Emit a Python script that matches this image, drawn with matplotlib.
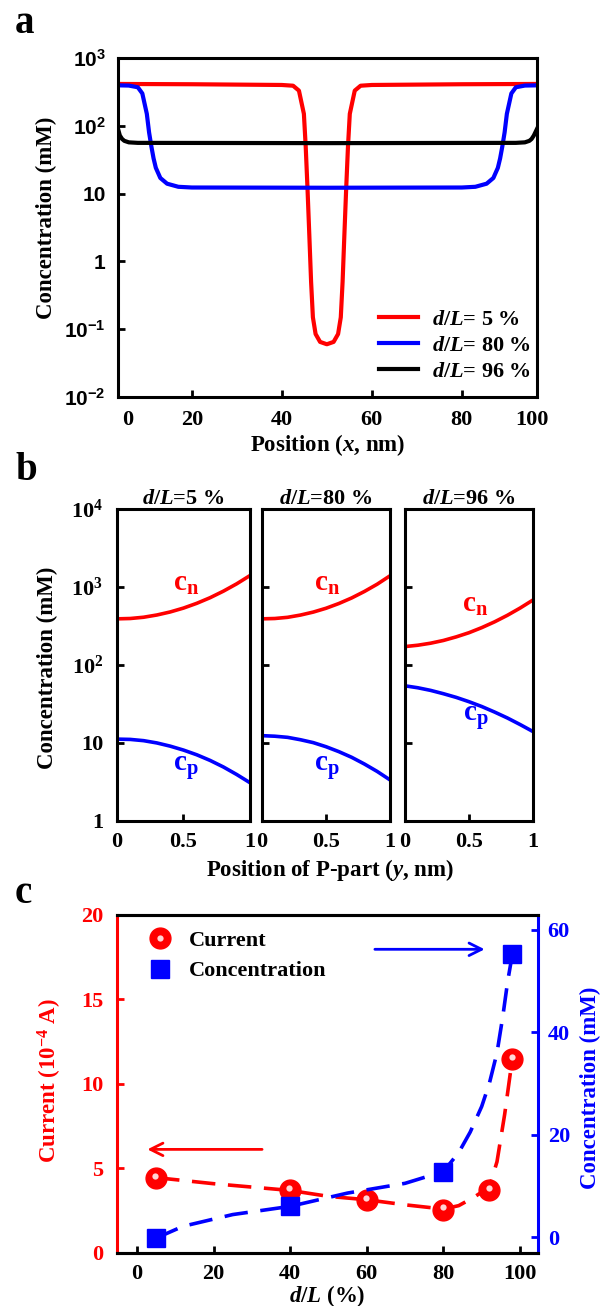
import numpy as np
import matplotlib
matplotlib.use("Agg")
import matplotlib.pyplot as plt
from matplotlib.transforms import offset_copy
from matplotlib.legend_handler import HandlerTuple

# ---- panel a: concentration profiles along x (log scale) ----
a_x_red = [3.6, 20, 40, 42.5, 43.8, 44.9, 45.3, 45.7, 46.1, 46.5, 46.9, 47.5, 48.5, 50,
           51.5, 52.5, 53.1, 53.5, 53.9, 54.3, 54.7, 55.1, 56.2, 57.5, 60, 80, 96.7]
a_c_red = [414, 410, 400, 390, 330, 150, 50, 12, 2.5, 0.5, 0.15, 0.085, 0.065, 0.06,
           0.065, 0.085, 0.15, 0.5, 2.5, 12, 50, 150, 330, 390, 400, 410, 414]
a_x_blue = [3.6, 6, 8, 9, 10, 10.5, 11, 11.5, 12, 13, 14.5, 17, 20, 50,
            80, 83, 85.5, 87, 88, 88.5, 89, 89.5, 90, 91, 92, 94, 96.7]
a_c_blue = [395, 392, 370, 300, 150, 80, 50, 33, 24, 17, 14, 12.6, 12.3, 12.2,
            12.3, 12.6, 14, 17, 24, 33, 50, 80, 150, 300, 370, 392, 395]
a_x_black = [3.6, 4, 4.5, 5, 6, 8, 50, 92, 94, 95, 95.5, 96, 96.7]
a_c_black = [90, 72, 64, 60, 57, 56, 55.5, 56, 57, 60, 64, 72, 90]
a_labels = ["= 5 %", "= 80 %", "= 96 %"]
a_xtick_pos = [5.8, 20, 40, 60, 80, 95.6]
a_xtick_lab = ["0", "20", "40", "60", "80", "100"]

# ---- panel b: cn / cp across the P-part ----
b_y = [0, 0.1, 0.2, 0.3, 0.4, 0.5, 0.6, 0.7, 0.8, 0.9, 1.0]
b_cn = [[390, 394, 409, 437, 478, 536, 617, 728, 883, 1097, 1400],
        [390, 394, 408, 436, 476, 533, 613, 722, 875, 1085, 1390],
        [172, 179, 190, 206, 229, 259, 301, 357, 433, 537, 680]]
b_cp = [[11.2, 11.1, 10.7, 10.0, 9.1, 8.1, 7.05, 5.97, 4.92, 3.94, 3.09],
        [12.4, 12.2, 11.8, 11.0, 10.1, 8.95, 7.74, 6.55, 5.37, 4.31, 3.36],
        [54, 51, 47.2, 42.8, 38.4, 33.8, 29.3, 24.9, 20.9, 17.2, 14.0]]
b_titles = ["=5 %", "=80 %", "=96 %"]
b_cn_lab = [(0.52, 1100), (0.51, 1100), (0.55, 590)]
b_cp_lab = [(0.52, 4.8), (0.51, 4.8), (0.55, 21)]

# ---- panel c: current and concentration vs d/L ----
c_dl = [5, 40, 60, 80, 92, 98]
c_current = [4.46, 3.7, 3.15, 2.57, 3.7, 11.5]
c_dl_conc = [5, 40, 80, 98]
c_conc = [-0.2, 6.0, 12.8, 55.2]
c_fit_cur_x = [5, 20, 40, 50, 60, 70, 80, 84, 88, 92, 94, 96, 98]
c_fit_cur_y = [4.46, 4.1, 3.7, 3.35, 3.15, 2.85, 2.6, 2.8, 3.3, 3.9, 5.4, 8.2, 11.5]
c_fit_conc_x = [5, 12, 25, 40, 55, 70, 80, 84, 87, 90, 92, 94, 95.5, 96.8, 98]
c_fit_conc_y = [-0.2, 2.1, 4.4, 6.0, 8.6, 10.5, 12.8, 16.5, 20.5, 25.5, 30, 36, 43, 50, 55.2]

plt.rcParams['font.family'] = 'Liberation Serif'
plt.rcParams['font.weight'] = 'bold'
plt.rcParams['axes.labelweight'] = 'bold'
plt.rcParams['axes.titleweight'] = 'bold'
plt.rcParams['mathtext.fontset'] = 'custom'
plt.rcParams['mathtext.rm'] = 'Liberation Serif:bold'
plt.rcParams['mathtext.bf'] = 'Liberation Serif:bold'
plt.rcParams['mathtext.it'] = 'Liberation Serif:italic:bold'
plt.rcParams['axes.linewidth'] = 2.2

FS = 16
RED = '#ff0000'
BLUE = '#0000ff'

fig = plt.figure(figsize=(6.04, 13.06), dpi=100)

# ================= a =================
ax = fig.add_axes([0.1954, 0.696, 0.6937, 0.2596])
for xs, cs, col, lab in zip([a_x_red, a_x_blue, a_x_black],
                            [a_c_red, a_c_blue, a_c_black],
                            [RED, BLUE, 'black'], a_labels):
    ax.plot(xs, cs, color=col, lw=3, label=r'$\mathit{d/L}$' + lab)
ax.set_yscale('log')
ax.set_ylim(1e-2, 1e3)
ax.set_xlim(3.6, 96.7)
ax.minorticks_off()
ax.set_yticks([1e-2, 1e-1, 1, 10, 1e2, 1e3],
              labels=[r'$\mathdefault{10^{-2}}$', r'$\mathdefault{10^{-1}}$', '1', '10',
                      r'$\mathdefault{10^{2}}$', r'$\mathdefault{10^{3}}$'],
              fontfamily='Liberation Sans', fontsize=FS - 1)
ax.set_xticks(a_xtick_pos, labels=a_xtick_lab, fontsize=FS)
ax.tick_params(direction='in', length=5, width=2, pad=9)
for t in (ax.xaxis.get_major_ticks()[0], ax.xaxis.get_major_ticks()[-1]):
    t.tick1line.set_visible(False)
ax.set_xlabel(r'Position ($\mathit{x}$, nm)', fontsize=FS + 0.5, labelpad=2)
ax.set_ylabel('Concentration (mM)', fontsize=FS + 0.5)
ax.yaxis.set_label_coords(-0.145, 0.53)
ax.legend(loc='lower right', bbox_to_anchor=(0.985, 0.045), frameon=False,
          fontsize=FS, handlelength=1.75, handletextpad=0.6, labelspacing=0.25,
          borderpad=0, borderaxespad=0)
fig.text(15 / 604, 1 - 33 / 1306, 'a', fontsize=28, fontweight='bold', va='baseline')

# ================= b =================
b_lefts = [0.1937, 0.4338, 0.6705]
b_widths = [0.2202, 0.2119, 0.2119]
for i in range(3):
    ax = fig.add_axes([b_lefts[i], 0.3714, b_widths[i], 0.2389])
    ax.plot(b_y, b_cn[i], color=RED, lw=2.6)
    ax.plot(b_y, b_cp[i], color=BLUE, lw=2.6)
    ax.set_yscale('log')
    ax.set_ylim(1, 1e4)
    ax.set_xlim(0, 1)
    ax.minorticks_off()
    ax.set_yticks([1, 10, 1e2, 1e3, 1e4],
                  labels=['1', '10', r'$\mathdefault{10^{2}}$', r'$\mathdefault{10^{3}}$',
                          r'$\mathdefault{10^{4}}$'], fontsize=FS)
    ax.set_xticks([0, 0.5, 1], labels=['0', '0.5', '1'], fontsize=FS)
    ax.tick_params(direction='in', length=5, width=2, pad=8)
    ax.tick_params(axis='y', pad=10)
    if i > 0:
        ax.tick_params(axis='y', labelleft=False)
    ax.set_title(r'$\mathit{d/L}$' + b_titles[i], fontsize=FS, pad=2)
    ax.text(*b_cn_lab[i], r'c$_{\mathbf{n}}$', color=RED, fontsize=21,
            ha='center', va='center')
    ax.text(*b_cp_lab[i], r'c$_{\mathbf{p}}$', color=BLUE, fontsize=21,
            ha='center', va='center')
    if i == 0:
        ax.set_ylabel('Concentration (mM)', fontsize=FS + 0.5)
        ax.yaxis.set_label_coords(-0.44, 0.49)
fig.text(330 / 604, 1 - 870 / 1306, r'Position of P-part ($\mathit{y}$, nm)',
         fontsize=FS + 0.5, ha='center', va='center')
fig.text(15 / 604, 1 - 480 / 1306, 'b', fontsize=28, fontweight='bold', va='baseline')

# ================= c =================
ax = fig.add_axes([0.1937, 0.0406, 0.697, 0.2588])
ax2 = ax.twinx()
ax.plot(c_fit_cur_x, c_fit_cur_y, color=RED, lw=2.6, ls=(0, (6.5, 3.5)), zorder=1)
h_cur, = ax.plot(c_dl, c_current, 'o', color=RED, ms=15, mec=RED, zorder=3)
hl = offset_copy(ax.transData, fig=fig, x=-0.5, y=1.5, units='points')
h_hl, = ax.plot(c_dl, c_current, 'o', color='#ffd6d6', ms=4.5, mew=0,
                transform=hl, zorder=4)
ax2.plot(c_fit_conc_x, c_fit_conc_y, color=BLUE, lw=2.6, ls=(0, (6.5, 3.5)), zorder=1)
h_conc, = ax2.plot(c_dl_conc, c_conc, 's', color=BLUE, ms=13.5, zorder=3)

ax.set_xlim(-5.2, 104.7)
ax.set_ylim(0, 20)
ax2.set_ylim(-3.1, 62.9)
ax.set_xticks([0, 20, 40, 60, 80, 100])
ax.set_yticks([0, 5, 10, 15, 20])
ax2.set_yticks([0, 20, 40, 60])
ax.tick_params(axis='x', direction='in', length=5, width=2, pad=8, labelsize=FS)
ax.tick_params(axis='y', direction='in', length=5, width=2, pad=10, labelsize=FS,
               colors=RED)
ax2.tick_params(axis='y', direction='in', length=5, width=2, pad=7, labelsize=FS,
                colors=BLUE)
ax.spines['left'].set_color(RED)
ax.spines['right'].set_visible(False)
ax2.spines['left'].set_visible(False)
ax2.spines['right'].set_color(BLUE)

ax.set_xlabel(r'$\mathit{d/L}$ (%)', fontsize=FS + 0.5, labelpad=-1)
ax.set_ylabel(r'Current (10$^{-4}$ A)', fontsize=FS + 0.5, color=RED)
ax.yaxis.set_label_coords(-0.125, 0.51)
ax2.set_ylabel('Concentration (mM)', fontsize=FS + 0.5, color=BLUE, rotation=90)
ax2.yaxis.set_label_coords(1.1, 0.49)

ax.annotate('', xy=(2, 6.13), xytext=(33.4, 6.13),
            arrowprops=dict(arrowstyle='->,head_length=0.6,head_width=0.3',
                            color=RED, lw=2, mutation_scale=15))
ax2.annotate('', xy=(91.5, 56.2), xytext=(61.4, 56.2),
             arrowprops=dict(arrowstyle='->,head_length=0.6,head_width=0.3',
                             color=BLUE, lw=2, mutation_scale=15))

ax2.legend([(h_cur, h_hl), h_conc], ['Current', 'Concentration'],
           handler_map={tuple: HandlerTuple(ndivide=1, pad=0)},
           loc='upper left', bbox_to_anchor=(0.07, 0.955), frameon=False,
           fontsize=FS, numpoints=1, handlelength=1.2, handletextpad=0.7,
           labelspacing=0.45, borderpad=0, borderaxespad=0)
fig.text(15 / 604, 1 - 903 / 1306, 'c', fontsize=28, fontweight='bold', va='baseline')

fig.savefig('out.png', dpi=100)
